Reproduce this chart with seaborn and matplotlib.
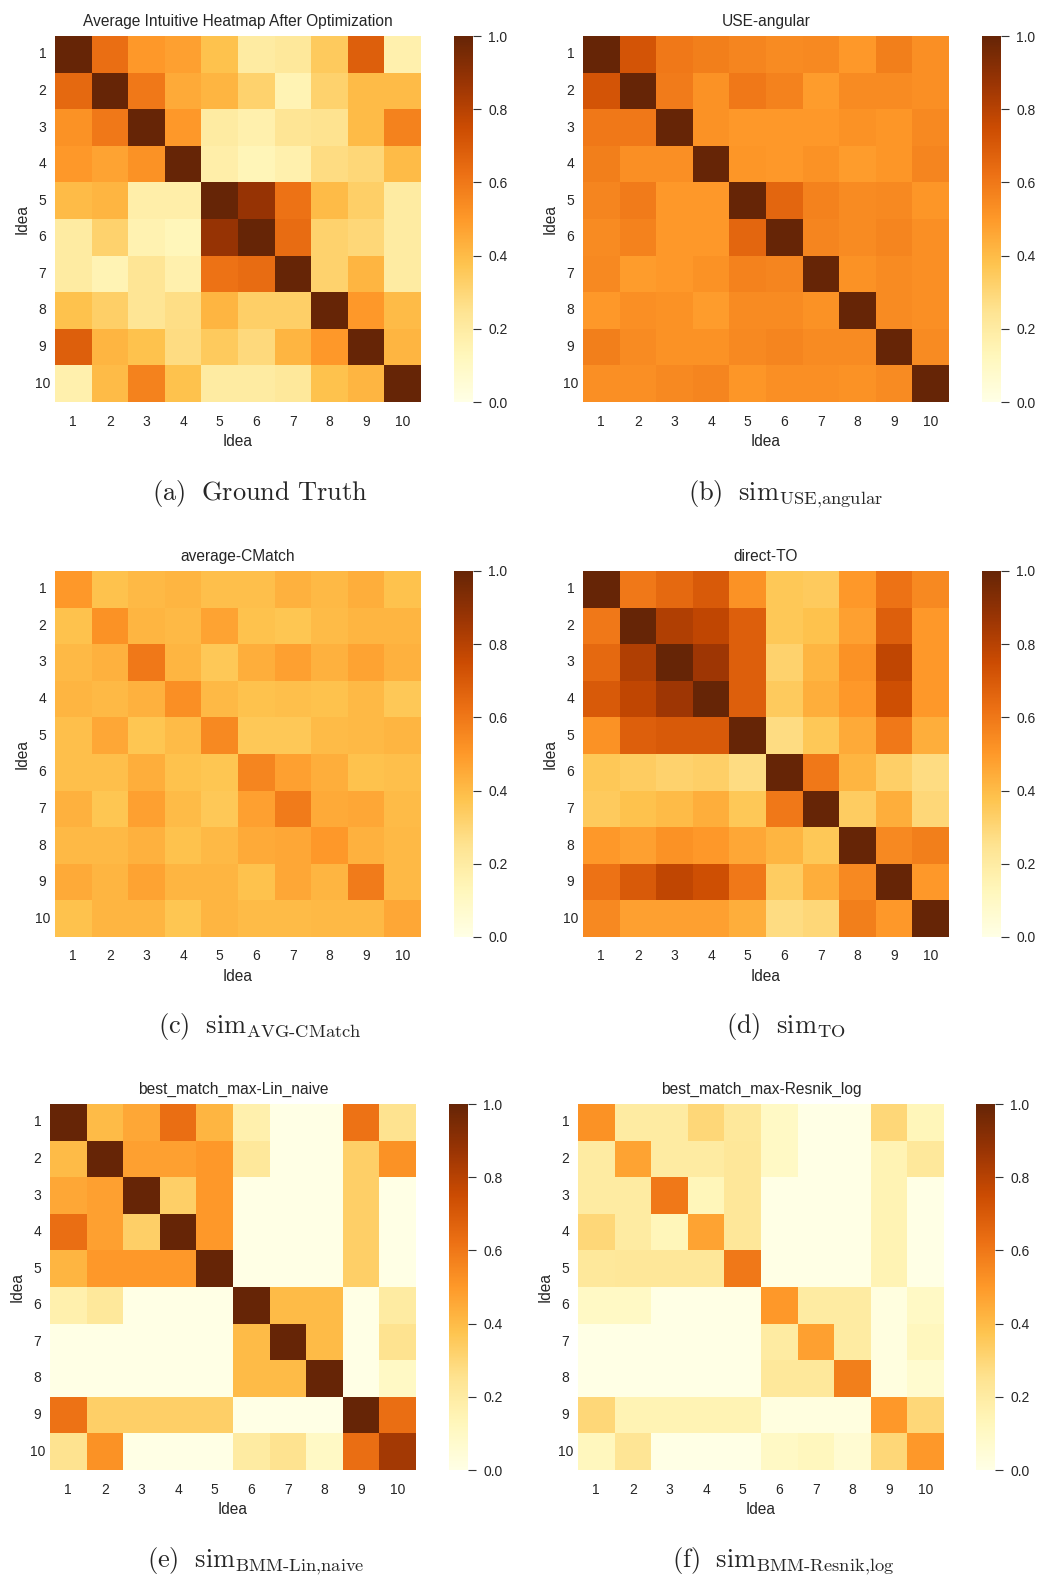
import numpy as np
import matplotlib
matplotlib.use("Agg")
import matplotlib.pyplot as plt
import seaborn as sns

ideas = [str(i) for i in range(1, 11)]

ground_truth = [
    [1.00, 0.63, 0.50, 0.48, 0.38, 0.20, 0.22, 0.35, 0.68, 0.17],
    [0.65, 1.00, 0.60, 0.45, 0.42, 0.32, 0.15, 0.32, 0.40, 0.40],
    [0.52, 0.60, 1.00, 0.50, 0.20, 0.17, 0.24, 0.25, 0.40, 0.57],
    [0.50, 0.47, 0.52, 1.00, 0.18, 0.14, 0.17, 0.28, 0.30, 0.40],
    [0.40, 0.42, 0.18, 0.18, 1.00, 0.88, 0.62, 0.40, 0.33, 0.20],
    [0.20, 0.32, 0.16, 0.13, 0.88, 1.00, 0.64, 0.32, 0.30, 0.20],
    [0.20, 0.15, 0.24, 0.17, 0.62, 0.64, 1.00, 0.32, 0.42, 0.20],
    [0.38, 0.33, 0.24, 0.27, 0.42, 0.33, 0.33, 1.00, 0.50, 0.40],
    [0.68, 0.42, 0.38, 0.28, 0.35, 0.29, 0.42, 0.50, 1.00, 0.42],
    [0.17, 0.40, 0.57, 0.38, 0.20, 0.20, 0.22, 0.38, 0.42, 1.00],
]

use_angular = [
    [1.00, 0.72, 0.60, 0.58, 0.56, 0.54, 0.55, 0.50, 0.58, 0.53],
    [0.72, 1.00, 0.59, 0.52, 0.60, 0.57, 0.49, 0.54, 0.54, 0.53],
    [0.60, 0.60, 1.00, 0.52, 0.50, 0.50, 0.50, 0.52, 0.51, 0.55],
    [0.58, 0.53, 0.53, 1.00, 0.51, 0.50, 0.52, 0.49, 0.51, 0.56],
    [0.56, 0.59, 0.50, 0.50, 1.00, 0.66, 0.57, 0.54, 0.55, 0.51],
    [0.54, 0.57, 0.50, 0.50, 0.66, 1.00, 0.56, 0.54, 0.56, 0.53],
    [0.55, 0.49, 0.50, 0.52, 0.57, 0.56, 1.00, 0.52, 0.54, 0.53],
    [0.50, 0.53, 0.52, 0.49, 0.54, 0.54, 0.52, 1.00, 0.54, 0.53],
    [0.58, 0.54, 0.52, 0.52, 0.55, 0.56, 0.54, 0.54, 1.00, 0.54],
    [0.53, 0.53, 0.55, 0.56, 0.51, 0.53, 0.53, 0.52, 0.54, 1.00],
]

avg_cmatch = [
    [0.50, 0.38, 0.41, 0.42, 0.39, 0.39, 0.43, 0.41, 0.44, 0.38],
    [0.38, 0.52, 0.42, 0.41, 0.47, 0.38, 0.37, 0.40, 0.42, 0.42],
    [0.41, 0.43, 0.60, 0.42, 0.36, 0.44, 0.48, 0.43, 0.47, 0.43],
    [0.42, 0.41, 0.43, 0.53, 0.41, 0.38, 0.39, 0.38, 0.41, 0.36],
    [0.39, 0.46, 0.37, 0.40, 0.55, 0.36, 0.36, 0.40, 0.41, 0.42],
    [0.39, 0.39, 0.44, 0.38, 0.37, 0.56, 0.48, 0.44, 0.38, 0.39],
    [0.43, 0.37, 0.48, 0.40, 0.36, 0.48, 0.59, 0.45, 0.46, 0.40],
    [0.41, 0.41, 0.43, 0.38, 0.41, 0.45, 0.46, 0.50, 0.43, 0.41],
    [0.45, 0.42, 0.47, 0.42, 0.42, 0.38, 0.46, 0.42, 0.59, 0.41],
    [0.38, 0.42, 0.42, 0.37, 0.42, 0.40, 0.40, 0.41, 0.41, 0.46],
]

direct_to = [
    [1.00, 0.60, 0.65, 0.70, 0.52, 0.36, 0.35, 0.50, 0.62, 0.55],
    [0.60, 1.00, 0.82, 0.78, 0.68, 0.36, 0.38, 0.48, 0.68, 0.50],
    [0.65, 0.82, 1.00, 0.86, 0.68, 0.32, 0.42, 0.52, 0.78, 0.50],
    [0.70, 0.78, 0.86, 1.00, 0.68, 0.35, 0.44, 0.50, 0.74, 0.50],
    [0.52, 0.68, 0.70, 0.70, 1.00, 0.28, 0.36, 0.45, 0.60, 0.44],
    [0.36, 0.34, 0.32, 0.33, 0.28, 1.00, 0.60, 0.42, 0.33, 0.28],
    [0.35, 0.38, 0.40, 0.44, 0.36, 0.60, 1.00, 0.34, 0.44, 0.30],
    [0.50, 0.48, 0.52, 0.50, 0.46, 0.42, 0.36, 1.00, 0.55, 0.58],
    [0.62, 0.70, 0.78, 0.74, 0.60, 0.34, 0.44, 0.55, 1.00, 0.50],
    [0.55, 0.48, 0.48, 0.48, 0.44, 0.28, 0.30, 0.58, 0.50, 1.00],
]

bmm_lin_naive = [
    [1.00, 0.40, 0.46, 0.63, 0.42, 0.17, 0.00, 0.00, 0.62, 0.25],
    [0.40, 1.00, 0.48, 0.48, 0.50, 0.22, 0.00, 0.00, 0.33, 0.52],
    [0.46, 0.48, 1.00, 0.33, 0.50, 0.00, 0.00, 0.00, 0.33, 0.00],
    [0.63, 0.48, 0.33, 1.00, 0.50, 0.00, 0.00, 0.00, 0.33, 0.00],
    [0.42, 0.50, 0.50, 0.50, 1.00, 0.00, 0.00, 0.00, 0.33, 0.00],
    [0.17, 0.22, 0.00, 0.00, 0.00, 1.00, 0.40, 0.40, 0.00, 0.20],
    [0.00, 0.00, 0.00, 0.00, 0.00, 0.40, 1.00, 0.40, 0.00, 0.25],
    [0.00, 0.00, 0.00, 0.00, 0.00, 0.40, 0.40, 1.00, 0.00, 0.10],
    [0.62, 0.33, 0.33, 0.33, 0.33, 0.00, 0.00, 0.00, 1.00, 0.63],
    [0.25, 0.52, 0.00, 0.00, 0.00, 0.20, 0.25, 0.10, 0.63, 0.85],
]

bmm_resnik_log = [
    [0.52, 0.20, 0.20, 0.30, 0.22, 0.10, 0.00, 0.00, 0.30, 0.13],
    [0.20, 0.47, 0.20, 0.20, 0.23, 0.10, 0.00, 0.00, 0.15, 0.22],
    [0.20, 0.20, 0.60, 0.13, 0.23, 0.00, 0.00, 0.00, 0.15, 0.00],
    [0.30, 0.20, 0.13, 0.47, 0.23, 0.00, 0.00, 0.00, 0.15, 0.00],
    [0.22, 0.23, 0.23, 0.23, 0.60, 0.00, 0.00, 0.00, 0.15, 0.00],
    [0.10, 0.10, 0.00, 0.00, 0.00, 0.50, 0.20, 0.20, 0.02, 0.10],
    [0.00, 0.00, 0.00, 0.00, 0.00, 0.20, 0.48, 0.20, 0.02, 0.12],
    [0.00, 0.00, 0.00, 0.00, 0.00, 0.22, 0.22, 0.58, 0.02, 0.07],
    [0.30, 0.15, 0.15, 0.15, 0.15, 0.02, 0.02, 0.02, 0.50, 0.30],
    [0.12, 0.24, 0.00, 0.00, 0.00, 0.10, 0.12, 0.06, 0.30, 0.50],
]

titles = ["Average Intuitive Heatmap After Optimization", "USE-angular",
          "average-CMatch", "direct-TO",
          "best_match_max-Lin_naive", "best_match_max-Resnik_log"]
captions = [r"$\mathrm{(a)\ \ Ground\ Truth}$",
            r"$\mathrm{(b)\ \ sim}_{\mathrm{USE{,}angular}}$",
            r"$\mathrm{(c)\ \ sim}_{\mathrm{AVG\text{-}CMatch}}$",
            r"$\mathrm{(d)\ \ sim}_{\mathrm{TO}}$",
            r"$\mathrm{(e)\ \ sim}_{\mathrm{BMM\text{-}Lin{,}naive}}$",
            r"$\mathrm{(f)\ \ sim}_{\mathrm{BMM\text{-}Resnik{,}log}}$"]
matrices = [ground_truth, use_angular, avg_cmatch, direct_to, bmm_lin_naive, bmm_resnik_log]

sns.set_theme(style="white")
plt.rcParams['font.family'] = ['Liberation Sans', 'DejaVu Sans']
plt.rcParams['mathtext.fontset'] = 'cm'

W, H = 1038, 1578
fig = plt.figure(figsize=(W / 100, H / 100), dpi=100)

# pixel boxes: heatmap left, top, colorbar left
boxes = [(55, 36, 454), (583, 36, 982),
         (55, 571, 454), (583, 571, 982),
         (50, 1104, 449), (578, 1104, 976)]
size = 366
cap_pos = [(260, 500), (786, 500), (260, 1033), (786, 1033), (256, 1567), (783, 1567)]

for mat, title, cap, (x0, y0, cx), (tx, ty) in zip(matrices, titles, captions, boxes, cap_pos):
    ax = fig.add_axes([x0 / W, 1 - (y0 + size) / H, size / W, size / H])
    cax = fig.add_axes([cx / W, 1 - (y0 + size) / H, 19 / W, size / H])
    sns.heatmap(np.array(mat), ax=ax, cbar_ax=cax, cmap="YlOrBr",
                vmin=0, vmax=1, xticklabels=ideas, yticklabels=ideas)
    ax.set_title(title, fontsize=11.2, pad=7)
    ax.set_xlabel("Idea", fontsize=11.2)
    ax.set_ylabel("Idea", fontsize=11.2)
    ax.tick_params(axis='x', length=0, labelsize=10, pad=9)
    ax.tick_params(axis='y', length=0, labelsize=10, pad=9, rotation=0)
    for lab in ax.get_yticklabels():
        lab.set_horizontalalignment('center')
    cax.tick_params(length=6, width=0.8, labelsize=10, pad=5, color='#333333')
    cax.set_yticks([0, 0.2, 0.4, 0.6, 0.8, 1.0])
    fig.text(tx / W, 1 - ty / H, cap, ha='center', va='baseline', fontsize=19)

fig.savefig("out.png", dpi=100)
